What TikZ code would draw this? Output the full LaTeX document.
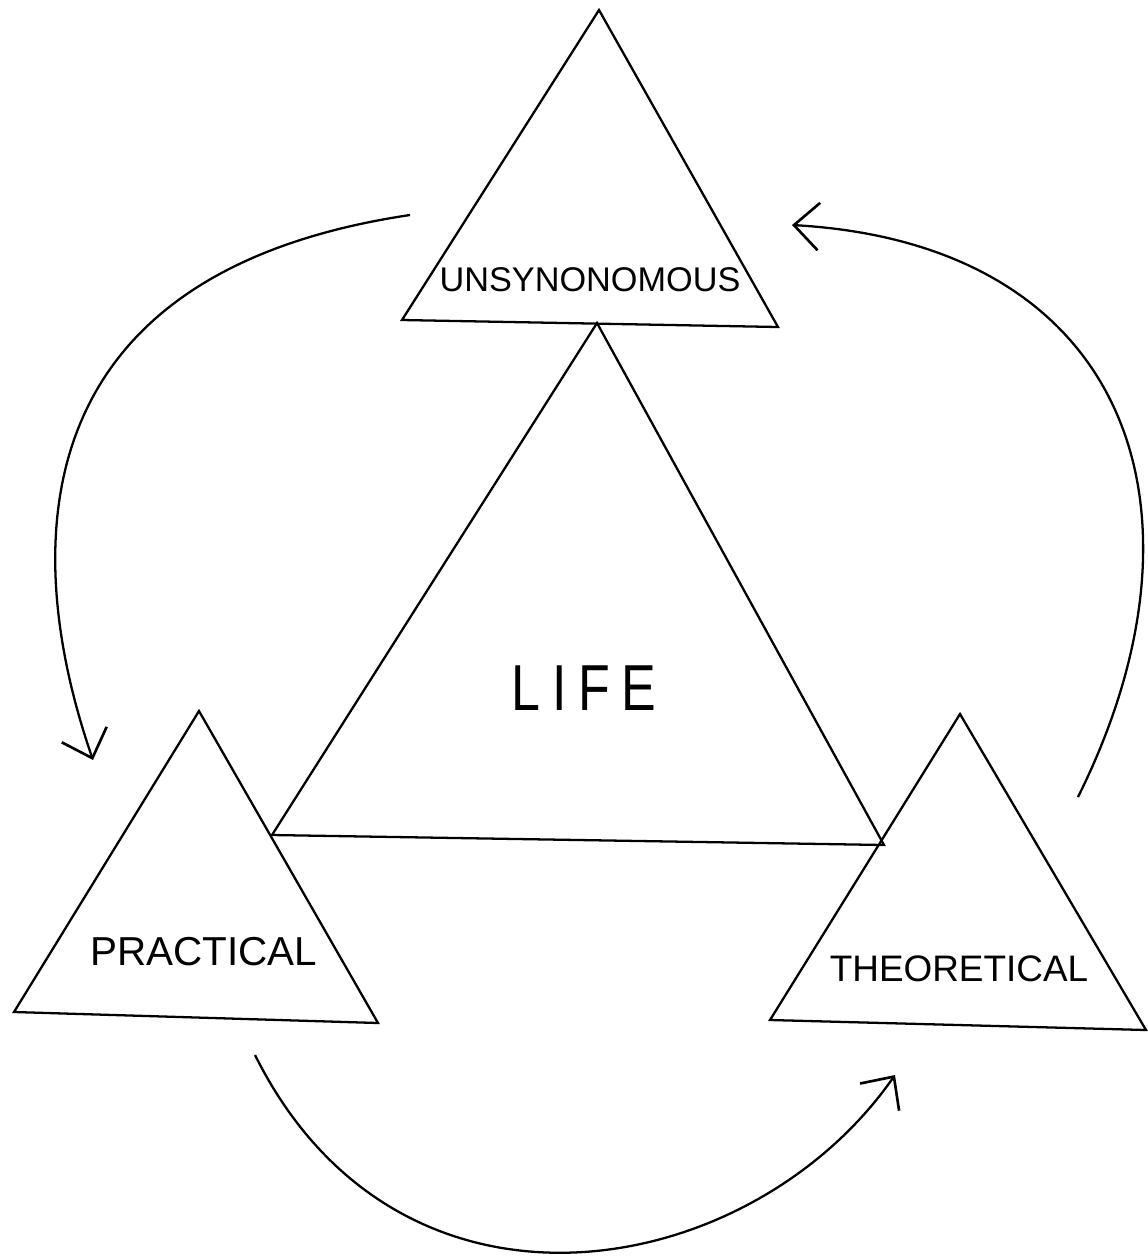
\documentclass[tikz,border=0pt]{standalone}
\usepackage{fontspec}
\setmainfont{Liberation Sans}
\usetikzlibrary{arrows.meta}
\begin{document}
\begin{tikzpicture}[x=0.02cm,y=-0.02cm,
  edge/.style={line width=1.3pt,line join=miter},
  arc/.style={line width=1.3pt,-{Straight Barb[length=0.5cm,width=0.95cm,line width=1.5pt]}},
  lbl/.style={inner sep=0pt,anchor=center}]
\useasboundingbox (0,0) rectangle (1148,1259);
% top triangle
\coordinate (tA) at (599,10);
\coordinate (tL) at (402,320);
\coordinate (tR) at (778,327);
\draw[edge] (tA) -- (tL) -- (tR) -- cycle;
% big triangle
\coordinate (bA) at (597,323);
\coordinate (bL) at (272,835);
\coordinate (bR) at (884,845);
\draw[edge] (bA) -- (bL) -- (bR) -- cycle;
% left triangle
\coordinate (lA) at (199,711);
\coordinate (lL) at (14,1012);
\coordinate (lR) at (378,1023);
\draw[edge] (lA) -- (lL) -- (lR) -- cycle;
% right triangle
\coordinate (rA) at (960,714);
\coordinate (rL) at (770,1020);
\coordinate (rR) at (1146,1030);
\draw[edge] (rA) -- (rL) -- (rR) -- cycle;
% labels
\node[lbl,font=\fontsize{19.5}{22}\selectfont] (uns) at (590,280) {UNSYNONOMOUS};
\node[lbl,xscale=0.8,font=\fontsize{37}{40}\selectfont] (life) at (584,688) {L\hspace{0.22em}I\hspace{0.22em}F\hspace{0.22em}E};
\node[lbl,font=\fontsize{23}{26}\selectfont] (prac) at (204,952) {PRACTICAL};
\node[lbl,font=\fontsize{21}{24}\selectfont] (theo) at (959,969) {THEORETICAL};
% arrows
\coordinate (a1s) at (410,215);
\coordinate (a1e) at (93,760);
\draw[arc] (a1s) .. controls (-46,283) and (53,644) .. (a1e);
\coordinate (a2s) at (1078,797);
\coordinate (a2e) at (792,225);
\draw[arc] (a2s) .. controls (1222,508) and (1127,244) .. (a2e);
\coordinate (a3s) at (255,1055);
\coordinate (a3e) at (895,1075);
\draw[arc] (a3s) .. controls (400,1346) and (750,1283) .. (a3e);
\end{tikzpicture}
\end{document}
